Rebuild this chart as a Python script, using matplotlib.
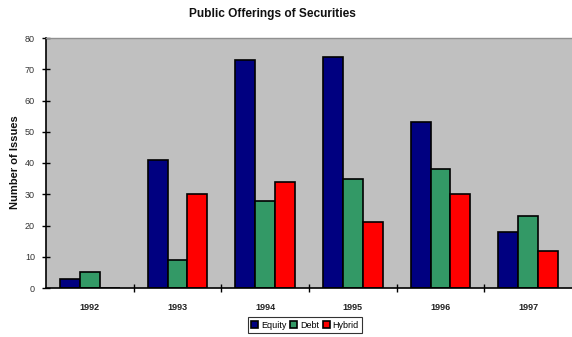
import matplotlib
matplotlib.use("Agg")
import matplotlib.pyplot as plt
import numpy as np

years = ["1992", "1993", "1994", "1995", "1996", "1997"]
equity = [3, 41, 73, 74, 53, 18]
debt = [5, 9, 28, 35, 38, 23]
hybrid = [0, 30, 34, 21, 30, 12]
series_names = ["Equity", "Debt", "Hybrid"]
colors = ["#000080", "#339966", "#FF0000"]

plt.rcParams['font.family'] = ['Liberation Sans', 'DejaVu Sans']

fig = plt.figure(figsize=(5.72, 3.37), dpi=100)
ax = fig.add_axes([46/572, 49/337, 526/572, 250/337])
ax.set_facecolor("#C0C0C0")

x = np.arange(len(years))
w = 0.227
for i, (vals, name, c) in enumerate(zip([equity, debt, hybrid], series_names, colors)):
    ax.bar(x + (i - 1) * w, vals, width=w, color=c, edgecolor="black", linewidth=1.2, label=name)

ax.set_xlim(-0.5, len(years) - 0.5)
ax.set_ylim(0, 80)
ax.set_yticks(range(0, 81, 10))
ax.set_xticks(x)
ax.set_xticklabels(years, fontsize=6.5, fontweight="bold", color="#222222")
ax.set_xticks(np.arange(0.5, len(years) - 1, 1), minor=True)
ax.tick_params(axis="x", which="major", length=0, pad=11)
ax.tick_params(axis="x", which="minor", length=6, width=1, direction="inout")
ax.tick_params(axis="y", length=6, width=1, direction="inout", labelsize=6.5, pad=5,
               labelcolor="#333333")
for s in ["left", "bottom"]:
    ax.spines[s].set_color("black")
    ax.spines[s].set_linewidth(1.2)
ax.spines["right"].set_visible(False)
ax.spines["top"].set_color("#909090")
ax.spines["top"].set_linewidth(1.0)

fig.text(15/572, 1 - 162/337, "Number of Issues", rotation=90, ha="center", va="center",
         fontsize=8, fontweight="bold", color="#111111")
fig.text(272/572, 1 - 14/337, "Public Offerings of Securities", ha="center", va="center",
         fontsize=8.6, fontweight="bold", color="#111111")

leg = fig.legend(loc="center", bbox_to_anchor=(305/572, 1 - 325/337), ncol=3, fontsize=6.5,
                 frameon=True, fancybox=False, edgecolor="black", handlelength=0.8,
                 handleheight=0.9, handletextpad=0.3, columnspacing=0.4, borderpad=0.35,
                 borderaxespad=0)
leg.get_frame().set_linewidth(0.8)

fig.savefig("out.png", dpi=100)
